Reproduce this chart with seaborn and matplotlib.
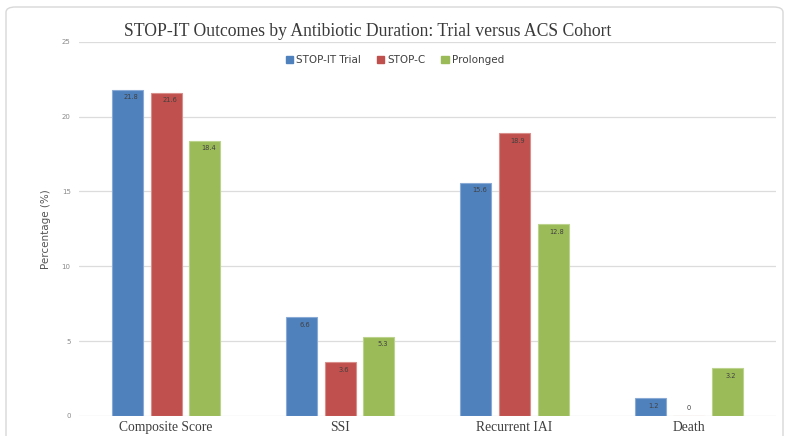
import matplotlib
matplotlib.use("Agg")
import matplotlib.pyplot as plt
import seaborn as sns
import pandas as pd
from matplotlib.patches import FancyBboxPatch, Patch

categories = ["Composite Score", "SSI", "Recurrent IAI", "Death"]
series_names = ["STOP-IT Trial", "STOP-C", "Prolonged"]
stop_it = [21.8, 6.6, 15.6, 1.2]
stop_c = [21.6, 3.6, 18.9, 0]
prolonged = [18.4, 5.3, 12.8, 3.2]
label_text = {
    "STOP-IT Trial": ["21.8", "6.6", "15.6", "1.2"],
    "STOP-C": ["21.6", "3.6", "18.9", "0"],
    "Prolonged": ["18.4", "5.3", "12.8", "3.2"],
}
yticks = [0, 5, 10, 15, 20, 25]

rows = []
for name, vals in zip(series_names, [stop_it, stop_c, prolonged]):
    for c, v in zip(categories, vals):
        rows.append({"Outcome": c, "Group": name, "Value": v})
df = pd.DataFrame(rows)

sns.set_theme(style="white")
plt.rcParams["font.family"] = ["DejaVu Sans"]

colors = ["#4F81BD", "#C0504D", "#9BBB59"]
edge = ["#8AAAD6", "#DA8E8B", "#BCD38E"]

fig = plt.figure(figsize=(7.9, 4.36), dpi=100)
fig.patch.set_facecolor("white")
ax = fig.add_axes([0.100, 0.046, 0.882, 0.858])

sns.barplot(data=df, x="Outcome", y="Value", hue="Group", order=categories,
            hue_order=series_names, palette=colors, width=0.665, gap=0.2,
            saturation=1, ax=ax, legend=False, linewidth=0.8)

for cont, ec, name in zip(ax.containers, edge, series_names):
    for p in cont:
        p.set_edgecolor(ec)
    labs = label_text[name]
    for p, t in zip(cont, labs):
        h = p.get_height()
        x = p.get_x() + p.get_width() / 2
        if h > 0.5:
            ax.annotate(t, (x, h), xytext=(2.5, -5.5), textcoords="offset points",
                        ha="center", va="center", fontsize=4.8, color="#404040")
        else:
            ax.annotate(t, (x, 0), xytext=(0, 5.5), textcoords="offset points",
                        ha="center", va="center", fontsize=4.8, color="#404040")

ax.set_ylim(0, 25)
ax.set_xlim(-0.5, 3.5)
ax.set_yticks(yticks)
ax.set_yticklabels([str(v) for v in yticks], fontsize=5, color="#8a8a8a")
ax.tick_params(axis="y", length=0, pad=6)
ax.tick_params(axis="x", length=0, pad=3.5)
ax.set_xticks(range(len(categories)))
ax.set_xticklabels(categories, fontsize=9.8, color="#404040",
                   family=["Liberation Serif", "DejaVu Serif"])
ax.set_xlabel("")
ax.set_ylabel("Percentage (%)", fontsize=7.5, color="#555555", labelpad=8)
ax.grid(axis="y", color="#dcdcdc", linewidth=0.9)
ax.set_axisbelow(True)
for s in ax.spines.values():
    s.set_visible(False)

fig.text(0.466, 0.927, "STOP-IT Outcomes by Antibiotic Duration: Trial versus ACS Cohort",
         ha="center", va="center", fontsize=12.7, color="#3a3a3a",
         family=["Liberation Serif", "DejaVu Serif"])

handles = [Patch(facecolor=c, edgecolor=c) for c in colors]
fig.legend(handles, series_names, loc="center", bbox_to_anchor=(0.5, 0.862),
           ncol=3, frameon=False, fontsize=7.5, handlelength=0.7,
           handleheight=0.7, handletextpad=0.3, columnspacing=1.5,
           labelcolor="#404040")

border = FancyBboxPatch((6 / 790, -0.05), 777 / 790, 1 - 7 / 436 + 0.05,
                        boxstyle="round,pad=0,rounding_size=0.012",
                        transform=fig.transFigure, facecolor="none",
                        edgecolor="#d8d8d8", linewidth=1.0, clip_on=False)
fig.patches.append(border)

fig.savefig("out.png", dpi=100)
